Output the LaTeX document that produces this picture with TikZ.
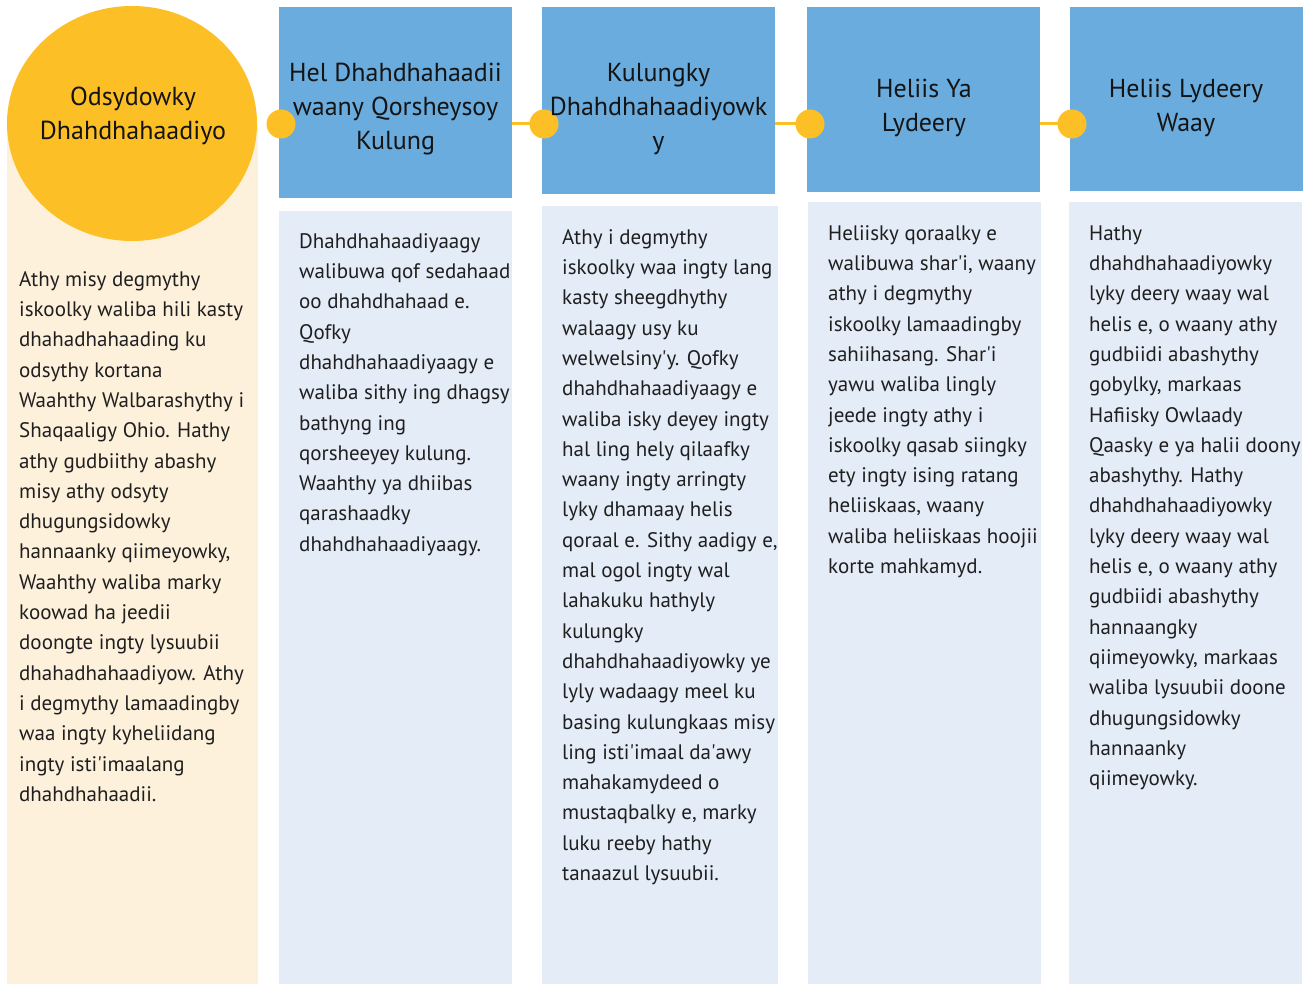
\documentclass[tikz,border=0pt]{standalone}
\usepackage{fontspec}
\setmainfont{PT Sans}
\usetikzlibrary{shapes.geometric}
\definecolor{gold}{HTML}{FDBF26}
\definecolor{hblue}{HTML}{6AACDE}
\definecolor{cream}{HTML}{FEF1DC}
\definecolor{pale}{HTML}{E4ECF7}
\newcommand{\ap}{\textquotesingle}
\newcommand{\st}{\rule{0pt}{16pt}}
\newcommand{\sth}{\rule{0pt}{20pt}}
\tikzset{
  panel/.style={draw=none, inner sep=0pt, anchor=north west},
  head/.style={panel, fill=hblue},
  body/.style={panel, fill=pale},
  dot/.style={circle, fill=gold, minimum size=29pt, inner sep=0pt},
  link/.style={draw=gold, line width=3pt},
  ttl/.style={inner sep=0pt, anchor=north, align=center, font=\fontsize{26}{34}\selectfont, text=black!92},
  txt/.style={inner sep=0pt, anchor=north west, align=left, font=\fontsize{21}{30.3}\selectfont, text=black!88}
}
\begin{document}
\begin{tikzpicture}[x=1pt,y=-1pt]
\useasboundingbox (0,0) rectangle (1304,984);
% background panels
\node[panel, fill=cream, minimum width=251pt, minimum height=860pt] (p0) at (7,124) {};
\node[body, minimum width=233pt, minimum height=773pt] (b1) at (279,211) {};
\node[body, minimum width=236pt, minimum height=778pt] (b2) at (542,206) {};
\node[body, minimum width=233pt, minimum height=782pt] (b3) at (808,202) {};
\node[body, minimum width=233pt, minimum height=782pt] (b4) at (1069,202) {};
% header boxes
\node[head, minimum width=233pt, minimum height=191pt] (h1) at (279,7) {};
\node[head, minimum width=233pt, minimum height=187pt] (h2) at (542,7) {};
\node[head, minimum width=233pt, minimum height=185pt] (h3) at (807,7) {};
\node[head, minimum width=233pt, minimum height=184pt] (h4) at (1070,7) {};
% circle
\node[ellipse, fill=gold, minimum width=250pt, minimum height=235pt, inner sep=0pt] (c0) at (132,123.5) {};
% dots and connectors
\node[dot] (d1) at (281,124) {};
\coordinate (d2) at (544,124);
\coordinate (d3) at (810,124);
\coordinate (d4) at (1072,124);
\draw[link] (h1.east |- d2) -- (d2);
\draw[link] (h2.east |- d3) -- (d3);
\draw[link] (h3.east |- d4) -- (d4);
\node[dot] (e2) at (d2) {};
\node[dot] (e3) at (d3) {};
\node[dot] (e4) at (d4) {};
% titles
\node[ttl] (t0) at (133,85) {\sth Odsydowky\\Dhahdhahaadiyo};
\node[ttl] (t1) at (395.5,61) {\sth Hel Dhahdhahaadii\\waany Qorsheysoy\\Kulung};
\node[ttl] (t2) at (658.5,61) {\sth Kulungky\\Dhahdhahaadiyowk\\y};
\node[ttl] (t3) at (924,77) {\sth Heliis Ya\\Lydeery};
\node[ttl] (t4) at (1186,77) {\sth Heliis Lydeery\\Waay};
% texts
\node[txt] (x0) at (19,270) {\st Athy misy degmythy\\iskoolky waliba hili kasty\\dhahadhahaading ku\\odsythy kortana\\Waahthy Walbarashythy i\\Shaqaaligy Ohio. Hathy\\athy gudbiithy abashy\\misy athy odsyty\\dhugungsidowky\\hannaanky qiimeyowky,\\Waahthy waliba marky\\koowad ha jeedii\\doongte ingty lysuubii\\dhahadhahaadiyow. Athy\\i degmythy lamaadingby\\waa ingty kyheliidang\\ingty isti\ap imaalang\\dhahdhahaadii.};
\node[txt] (x1) at (299,232) {\st Dhahdhahaadiyaagy\\walibuwa qof sedahaad\\oo dhahdhahaad e.\\Qofky\\dhahdhahaadiyaagy e\\waliba sithy ing dhagsy\\bathyng ing\\qorsheeyey kulung.\\Waahthy ya dhiibas\\qarashaadky\\dhahdhahaadiyaagy.};
\node[txt] (x2) at (562,228) {\st Athy i degmythy\\iskoolky waa ingty lang\\kasty sheegdhythy\\walaagy usy ku\\welwelsiny\ap y. Qofky\\dhahdhahaadiyaagy e\\waliba isky deyey ingty\\hal ling hely qilaafky\\waany ingty arringty\\lyky dhamaay helis\\qoraal e. Sithy aadigy e,\\mal ogol ingty wal\\lahakuku hathyly\\kulungky\\dhahdhahaadiyowky ye\\lyly wadaagy meel ku\\basing kulungkaas misy\\ling isti\ap imaal da\ap awy\\mahakamydeed o\\mustaqbalky e, marky\\luku reeby hathy\\tanaazul lysuubii.};
\node[txt] (x3) at (828,224) {\st Heliisky qoraalky e\\walibuwa shar\ap i, waany\\athy i degmythy\\iskoolky lamaadingby\\sahiihasang. Shar\ap i\\yawu waliba lingly\\jeede ingty athy i\\iskoolky qasab siingky\\ety ingty ising ratang\\heliiskaas, waany\\waliba heliiskaas hoojii\\korte mahkamyd.};
\node[txt] (x4) at (1089,224) {\st Hathy\\dhahdhahaadiyowky\\lyky deery waay wal\\helis e, o waany athy\\gudbiidi abashythy\\gobylky, markaas\\Hafiisky Owlaady\\Qaasky e ya halii doony\\abashythy. Hathy\\dhahdhahaadiyowky\\lyky deery waay wal\\helis e, o waany athy\\gudbiidi abashythy\\hannaangky\\qiimeyowky, markaas\\waliba lysuubii doone\\dhugungsidowky\\hannaanky\\qiimeyowky.};
\end{tikzpicture}
\end{document}
